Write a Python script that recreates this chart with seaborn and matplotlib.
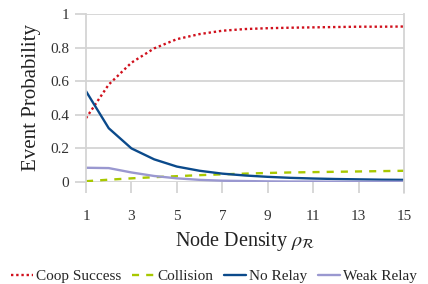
import pandas as pd
import numpy as np
import matplotlib
matplotlib.use('Agg')
import matplotlib.pyplot as plt
import seaborn as sns

# Values
density = [1, 2, 3, 4, 5, 6, 7, 8, 9, 10, 11, 12, 13, 14, 15]
coop_success = [0.38, 0.58, 0.71, 0.795, 0.85, 0.88, 0.90, 0.91, 0.915, 0.918, 0.92, 0.922, 0.924, 0.924, 0.925]
collision = [0.005, 0.014, 0.022, 0.029, 0.035, 0.041, 0.046, 0.05, 0.054, 0.057, 0.059, 0.061, 0.063, 0.065, 0.067]
no_relay = [0.54, 0.32, 0.20, 0.135, 0.092, 0.067, 0.05, 0.039, 0.031, 0.025, 0.021, 0.018, 0.016, 0.014, 0.013]
weak_relay = [0.085, 0.083, 0.057, 0.036, 0.022, 0.013, 0.008, 0.006, 0.004, 0.003, 0.003, 0.002, 0.002, 0.002, 0.002]

series = ['Coop Success', 'Collision', 'No Relay', 'Weak Relay']

df = pd.DataFrame({
    'density': density * 4,
    'prob': coop_success + collision + no_relay + weak_relay,
    'event': np.repeat(series, len(density)),
})

sns.set_style('white')
plt.rcParams['font.family'] = ['Liberation Serif', 'DejaVu Serif']
plt.rcParams['mathtext.fontset'] = 'stix'

fig = plt.figure(figsize=(4.28, 2.84), dpi=100)
ax = fig.add_axes([0.201, 0.359, 0.743, 0.592])

palette = {'Coop Success': '#d0101c', 'Collision': '#a8c800',
           'No Relay': '#0b4a8b', 'Weak Relay': '#9a98d0'}
dashes = {'Coop Success': (1, 1.2), 'Collision': (3, 3),
          'No Relay': '', 'Weak Relay': ''}

sns.lineplot(data=df, x='density', y='prob', hue='event', style='event',
             palette=palette, dashes=dashes, linewidth=1.7, ax=ax, legend=True)

ax.set_xlim(1, 15)
ax.set_ylim(0, 1)
ax.set_xticks([1, 3, 5, 7, 9, 11, 13, 15])
ax.set_yticks([0, 0.2, 0.4, 0.6, 0.8, 1.0])
ax.set_yticklabels(['0', '0.2', '0.4', '0.6', '0.8', '1'])

grid_c = '#d4d4d4'
ax.yaxis.grid(True, color=grid_c, linewidth=1.3)
ax.set_axisbelow(True)
for s in ['top', 'bottom']:
    ax.spines[s].set_visible(False)
for s in ['left', 'right']:
    ax.spines[s].set_color(grid_c)
    ax.spines[s].set_linewidth(1.3)

ax.tick_params(axis='x', which='both', bottom=True, length=8, width=1.3,
               color=grid_c, pad=12, labelsize=11, labelcolor='#333333')
ax.tick_params(axis='y', which='both', left=True, length=8, width=1.3,
               color=grid_c, pad=4, labelsize=11, labelcolor='#333333')
# extend right spine down like a tick at x=15
ax.plot([15, 15], [0, -0.065], color=grid_c, linewidth=1.3, clip_on=False)

ax.set_xlabel(r'Node Density $\rho_{\mathcal{R}}$', fontsize=14.5, labelpad=5, color='#222222')
ax.set_ylabel('Event Probability', fontsize=15, labelpad=7, color='#222222')

handles, labels = ax.get_legend_handles_labels()
ax.legend_.remove()
fig.legend(handles, labels, loc='lower center', bbox_to_anchor=(0.5, -0.045),
           ncol=4, frameon=False, fontsize=11, handlelength=1.4,
           handletextpad=0.2, columnspacing=0.75)

fig.savefig('out.png', dpi=100)
